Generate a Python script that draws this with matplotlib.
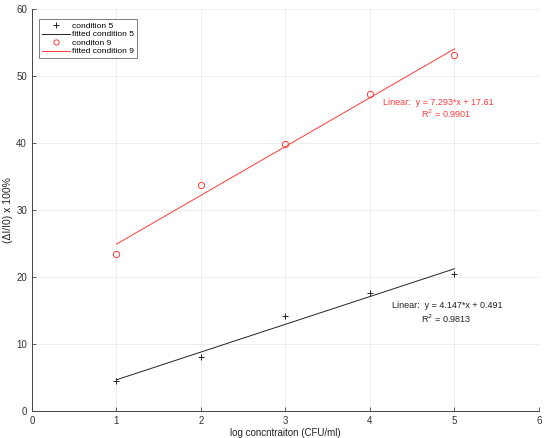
import matplotlib
matplotlib.use("Agg")
import matplotlib.pyplot as plt
import numpy as np

log_conc = [1, 2, 3, 4, 5]
cond5 = [4.5, 8.0, 14.2, 17.6, 20.4]
cond9 = [23.5, 33.7, 39.8, 47.3, 53.2]
fit5 = (4.147, 0.491, 0.9813)
fit9 = (7.293, 17.61, 0.9901)

plt.rcParams["font.family"] = ["Liberation Sans", "DejaVu Sans"]

fig = plt.figure(figsize=(5.5, 4.38), dpi=100)
ax = fig.add_axes([0.058, 0.062, 0.922, 0.917])

x = np.array(log_conc, dtype=float)
red = "#ff3a3a"

ax.plot(x, cond5, "+", color="#222222", ms=5, mew=0.7, label="condition 5")
ax.plot(x, fit5[0] * x + fit5[1], "-", color="#222222", lw=0.7, label="fitted condition 5")
ax.plot(x, cond9, "o", color=red, mfc="none", ms=4.5, mew=0.7, label="conditon 9")
ax.plot(x, fit9[0] * x + fit9[1], "-", color=red, lw=0.7, label="fitted condition 9")

ax.text(4.15, 46.0, f"Linear:  y = {fit9[0]:.3f}*x + {fit9[1]:.2f}", color=red, fontsize=6.5, va="center")
ax.text(4.6, 44.4, f"R$^2$ = {fit9[2]:.4f}", color=red, fontsize=6.5, va="center")
ax.text(4.26, 15.7, f"Linear:  y = {fit5[0]:.3f}*x + {fit5[1]:.3f}", color="#222222", fontsize=6.5, va="center")
ax.text(4.6, 13.7, f"R$^2$ = {fit5[2]:.4f}", color="#222222", fontsize=6.5, va="center")

ax.set_xlim(0, 6)
ax.set_ylim(0, 60)
ax.set_xticks(range(0, 7))
ax.set_yticks(range(0, 61, 10))
ax.grid(True, color="#ebebeb", lw=0.6)
ax.set_axisbelow(True)
for s in ("top", "right"):
    ax.spines[s].set_visible(False)
for s in ("left", "bottom"):
    ax.spines[s].set_color("#444444")
    ax.spines[s].set_linewidth(0.7)
ax.tick_params(direction="in", length=3, width=0.6, colors="#444444", labelsize=7, labelcolor="#333333")
ax.set_xlabel("log concntraiton (CFU/ml)", fontsize=7, color="#222222", labelpad=2)
ax.set_ylabel("(ΔI/I0) x 100%", fontsize=7.5, color="#222222")
ax.yaxis.set_label_coords(-0.038, 0.5)

leg = ax.legend(loc="upper left", bbox_to_anchor=(0.014, 0.975), fontsize=6, frameon=True,
                fancybox=False, edgecolor="#444444", handlelength=3.4, borderpad=0.35,
                labelspacing=0.08, handletextpad=0.25, borderaxespad=0, markerscale=0.85)
leg.get_frame().set_linewidth(0.6)

fig.savefig("out.png", dpi=100)
